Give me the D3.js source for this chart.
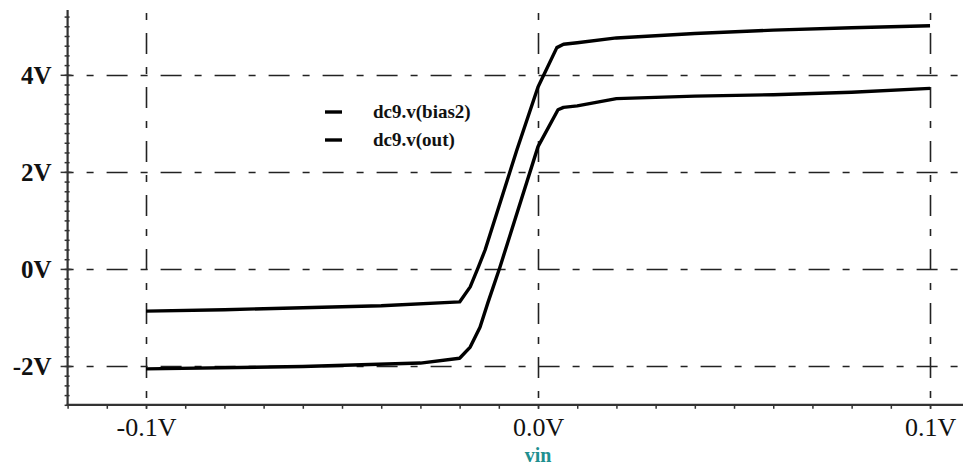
<!DOCTYPE html>
<html>
<head>
<meta charset="utf-8">
<script src="https://cdn.jsdelivr.net/npm/d3@7"></script>
<style>
  html, body { margin: 0; padding: 0; background: #ffffff; }
  svg { display: block; }
</style>
</head>
<body>
<svg id="chart" width="963" height="467"></svg>
<script>
// DC sweep of vin: node voltages of dc9
const bias2Vin = [-0.1, -0.08, -0.06, -0.04, -0.02, -0.0173, -0.0153, -0.0135, -0.0054, 0, 0.0048, 0.0065, 0.01, 0.02, 0.04, 0.06, 0.08, 0.1];
const bias2V   = [-0.87, -0.84, -0.80, -0.76, -0.68, -0.37, 0.02, 0.39, 2.45, 3.75, 4.56, 4.63, 4.66, 4.76, 4.85, 4.92, 4.97, 5.01];

const outVin = [-0.1, -0.06, -0.03, -0.02, -0.0173, -0.0148, -0.0128, -0.0097, 0, 0.0051, 0.0065, 0.01, 0.02, 0.04, 0.06, 0.08, 0.1];
const outV   = [-2.06, -2.01, -1.94, -1.84, -1.61, -1.20, -0.70, 0.04, 2.52, 3.28, 3.33, 3.36, 3.51, 3.56, 3.59, 3.64, 3.72];

const seriesNames = ["dc9.v(bias2)", "dc9.v(out)"];
const xMajorTicks = [-0.1, 0, 0.1];
const yMajorTicks = [-2, 0, 2, 4];
const xAxisTitle = "vin";

const svg = d3.select("#chart");

const x = d3.scaleLinear().domain([-0.12, 0.108]).range([67.6, 961.4]);
const y = d3.scaleLinear().domain([-2.8, 5.35]).range([404.8, 9.3]);

const axisColor = "#333333";
const fontSerif = "'Liberation Serif', 'Times New Roman', serif";

// dash-dot grid
const dash = "21,13,7,13";
const grid = svg.append("g");
grid.selectAll("line.h").data(yMajorTicks).join("line")
  .attr("class", "h")
  .attr("x1", x(-0.12)).attr("x2", 963)
  .attr("y1", d => Math.round(y(d)) + 0.5).attr("y2", d => Math.round(y(d)) + 0.5)
  .attr("stroke", "#222").attr("stroke-width", 1.6)
  .attr("stroke-dasharray", dash).attr("stroke-dashoffset", 15);
grid.selectAll("line.v").data(xMajorTicks).join("line")
  .attr("class", "v")
  .attr("x1", d => Math.round(x(d)) + 0.5).attr("x2", d => Math.round(x(d)) + 0.5)
  .attr("y1", 10).attr("y2", y(-2.8))
  .attr("stroke", "#222").attr("stroke-width", 1.6)
  .attr("stroke-dasharray", dash).attr("stroke-dashoffset", 31);

// y axis: minor ticks every 0.2 V, labelled majors
const yMinor = d3.range(-14, 27).map(i => +(i * 0.2).toFixed(1));
const yMinorAxis = svg.append("g")
  .attr("transform", `translate(${x(-0.12)},0)`)
  .call(d3.axisLeft(y).tickValues(yMinor).tickSize(3).tickFormat(""));
yMinorAxis.select(".domain").remove();
yMinorAxis.selectAll(".tick line").attr("x2", -3).attr("x1", 2)
  .attr("stroke", axisColor).attr("stroke-width", 1.5);

const yAxis = svg.append("g")
  .attr("transform", `translate(${x(-0.12)},0)`)
  .call(d3.axisLeft(y).tickValues(yMajorTicks).tickSize(7).tickPadding(9)
    .tickFormat(d => d + "V"));
yAxis.select(".domain").remove();
yAxis.selectAll(".tick line").attr("x1", 4).attr("stroke", axisColor).attr("stroke-width", 1.5);
yAxis.selectAll(".tick text")
  .attr("font-family", fontSerif).attr("font-size", 25).attr("font-weight", "bold")
  .attr("fill", "#111").attr("dy", "0.33em");

// x axis: minor ticks every 0.01 V, labelled majors
const xMinor = d3.range(-12, 11).map(i => +(i * 0.01).toFixed(2));
const xMinorAxis = svg.append("g")
  .attr("transform", `translate(0,${y(-2.8)})`)
  .call(d3.axisBottom(x).tickValues(xMinor).tickSize(4).tickFormat(""));
xMinorAxis.select(".domain").remove();
xMinorAxis.selectAll(".tick line").attr("stroke", axisColor).attr("stroke-width", 1.5);

const xAxis = svg.append("g")
  .attr("transform", `translate(0,${y(-2.8)})`)
  .call(d3.axisBottom(x).tickValues(xMajorTicks).tickSize(4)
    .tickFormat(d => (d < 0 ? "-" : "") + Math.abs(d).toFixed(1) + "V"));
xAxis.select(".domain").remove();
xAxis.selectAll(".tick line").attr("stroke", axisColor).attr("stroke-width", 1.5);
xAxis.selectAll(".tick text")
  .attr("font-family", fontSerif).attr("font-size", 26)
  .attr("fill", "#111").attr("y", 31).attr("dy", 0);

// axis lines
svg.append("line")
  .attr("x1", x(-0.12)).attr("x2", x(-0.12)).attr("y1", 10).attr("y2", y(-2.8) + 1)
  .attr("stroke", axisColor).attr("stroke-width", 2.2);
svg.append("line")
  .attr("x1", x(-0.12) - 1).attr("x2", 963).attr("y1", y(-2.8)).attr("y2", y(-2.8))
  .attr("stroke", axisColor).attr("stroke-width", 2.2);

// curves
const line = d3.line().x(d => x(d[0])).y(d => y(d[1]));
const curves = [d3.zip(bias2Vin, bias2V), d3.zip(outVin, outV)];
svg.append("g").selectAll("path").data(curves).join("path")
  .attr("d", line)
  .attr("fill", "none").attr("stroke", "#000").attr("stroke-width", 3.4)
  .attr("stroke-linejoin", "round");

// legend
const legend = svg.append("g");
const legendY = [112, 140];
legend.selectAll("line").data(seriesNames).join("line")
  .attr("x1", 325).attr("x2", 342)
  .attr("y1", (d, i) => legendY[i]).attr("y2", (d, i) => legendY[i])
  .attr("stroke", "#000").attr("stroke-width", 3.4);
legend.selectAll("text").data(seriesNames).join("text")
  .attr("x", 373).attr("y", (d, i) => legendY[i] + 6)
  .attr("font-family", fontSerif).attr("font-size", 19).attr("font-weight", "bold")
  .attr("fill", "#111").text(d => d);

// x axis title
svg.append("text")
  .attr("x", x(0)).attr("y", 462).attr("text-anchor", "middle")
  .attr("font-family", fontSerif).attr("font-size", 20).attr("font-weight", "bold")
  .attr("fill", "#1f9090").text(xAxisTitle);
</script>
</body>
</html>
